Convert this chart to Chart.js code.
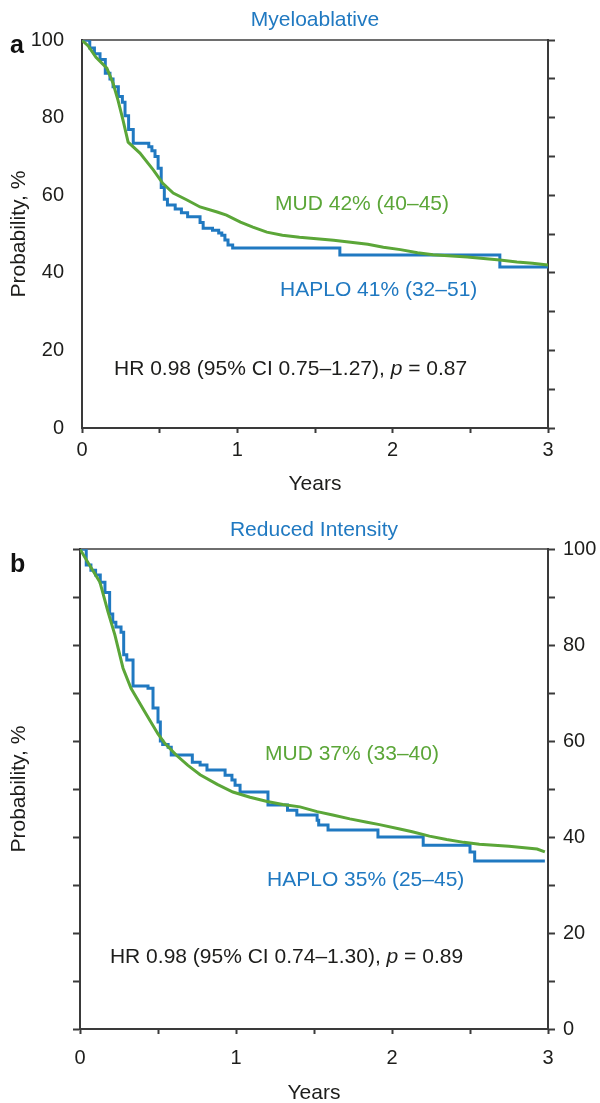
<!DOCTYPE html>
<html>
<head>
<meta charset="utf-8">
<script src="https://cdn.jsdelivr.net/npm/chart.js@4.4.1/dist/chart.umd.min.js"></script>
<style>
  html, body { margin: 0; padding: 0; background: #fff; overflow: hidden; }
  #wrap { position: relative; width: 600px; height: 1103px; overflow: hidden; }
  canvas { position: absolute; left: 0; }
  #panelA { top: 0; }
  #panelB { top: 510px; }
</style>
</head>
<body>
<div id="wrap">
  <canvas id="panelA" width="600" height="510"></canvas>
  <canvas id="panelB" width="600" height="600"></canvas>
</div>
<script>
// Tick labels
const yearLabels = [0, 1, 2, 3];
const probLabels = [0, 20, 40, 60, 80, 100];

// Myeloablative - MUD (smooth KM curve)
const maMudTime = [0, 0.04, 0.09, 0.16, 0.2, 0.232, 0.264, 0.297, 0.373, 0.46, 0.52, 0.587, 0.676, 0.76, 0.87, 0.93,
  1.02, 1.1, 1.19, 1.29, 1.4, 1.62, 1.84, 1.94, 2.05, 2.16, 2.26, 2.48, 2.69, 2.8, 2.9, 3.0];
const maMudProb = [100, 98.5, 95.6, 92.8, 88.9, 84.5, 79.4, 73.7, 70.9, 66.5, 63.1, 60.6, 58.8, 57, 55.7, 54.9,
  53.1, 51.8, 50.5, 49.7, 49.2, 48.4, 47.4, 46.6, 46, 45.2, 44.7, 44.1, 43.3, 42.8, 42.5, 42];

// Myeloablative - HAPLO (steps)
const maHaploTime = [0, 0.05, 0.08, 0.116, 0.15, 0.18, 0.2, 0.234, 0.26, 0.277, 0.3, 0.33, 0.43, 0.45, 0.47, 0.49,
  0.51, 0.53, 0.55, 0.6, 0.64, 0.68, 0.76, 0.78, 0.84, 0.88, 0.9, 0.92, 0.94, 0.97, 1.66, 2.69, 3.0];
const maHaploProb = [100, 98, 96.5, 95, 91.5, 90, 88, 85.5, 84, 80.5, 77, 73.4, 72.5, 71.5, 70, 67,
  62, 59, 57.5, 56.5, 55.5, 54.5, 53, 51.5, 51, 50.3, 49.7, 48.5, 47.2, 46.4, 44.6, 41.5, 41.5];

// Reduced intensity - MUD
const riMudTime = [0, 0.05, 0.128, 0.18, 0.224, 0.276, 0.327, 0.417, 0.5, 0.545, 0.62, 0.69, 0.77, 0.88, 0.98, 1.09,
  1.2, 1.3, 1.41, 1.52, 1.62, 1.73, 1.84, 1.92, 2.05, 2.13, 2.24, 2.35, 2.46, 2.56, 2.75, 2.93, 2.98];
const riMudProb = [100, 97.3, 93.1, 86.9, 82.1, 75.2, 71, 66, 61.5, 59.5, 57, 55, 53, 51, 49.4, 48.3,
  47.4, 46.8, 46.3, 45.3, 44.6, 43.8, 43.1, 42.6, 41.7, 41.1, 40.2, 39.5, 38.9, 38.5, 38.1, 37.5, 36.9];

// Reduced intensity - HAPLO
const riHaploTime = [0, 0.04, 0.07, 0.1, 0.13, 0.16, 0.19, 0.21, 0.23, 0.263, 0.28, 0.3, 0.34, 0.436, 0.468, 0.5,
  0.515, 0.53, 0.565, 0.585, 0.72, 0.77, 0.814, 0.93, 0.974, 0.994, 1.026, 1.205, 1.33, 1.39, 1.52, 1.53, 1.59,
  1.91, 2.2, 2.5, 2.53, 2.98];
const riHaploProb = [100, 96.7, 95.6, 94.6, 93.1, 91, 86.5, 84.8, 83.8, 82.7, 78, 76.9, 71.5, 71, 66.9, 64,
  60, 59.3, 58.7, 57.1, 55.6, 55, 54, 52.9, 51.9, 50.8, 49.4, 46.7, 45.6, 44.6, 43.5, 42.5, 41.5,
  40, 38.3, 36.9, 35, 35];

const BLUE = '#2079c1';
const GREEN = '#5ba638';
const AXIS = '#3a3a3a';
const FRAME = '#6e6e6e';
const TEXT = '#1d1d1b';
const FONT = "'Liberation Sans', Arial, Helvetica, sans-serif";

const toPoints = (t, p) => t.map((x, i) => ({ x: x, y: p[i] }));

// text drawn inside the plot (label positions in axis units)
const panelNotes = {
  panelA: {
    letter: { text: 'a', x: 10, y: 53 },
    items: [
      { x: 1.243, y: 57.7, color: GREEN, parts: [{ text: 'MUD 42% (40–45)' }] },
      { x: 1.275, y: 35.6, color: BLUE, parts: [{ text: 'HAPLO 41% (32–51)' }] },
      { x: 0.206, y: 15.2, color: TEXT, parts: [{ text: 'HR 0.98 (95% CI 0.75–1.27), ' }, { text: 'p', italic: true }, { text: ' = 0.87' }] }
    ]
  },
  panelB: {
    letter: { text: 'b', x: 10, y: 62 },
    items: [
      { x: 1.186, y: 57.3, color: GREEN, parts: [{ text: 'MUD 37% (33–40)' }] },
      { x: 1.199, y: 31, color: BLUE, parts: [{ text: 'HAPLO 35% (25–45)' }] },
      { x: 0.192, y: 14.9, color: TEXT, parts: [{ text: 'HR 0.98 (95% CI 0.74–1.30), ' }, { text: 'p', italic: true }, { text: ' = 0.89' }] }
    ]
  }
};

const notesPlugin = {
  id: 'notes',
  afterDatasetsDraw(chart) {
    const notes = panelNotes[chart.canvas.id];
    if (!notes) return;
    const { ctx, scales } = chart;
    ctx.save();
    ctx.textBaseline = 'middle';
    ctx.textAlign = 'left';
    notes.items.forEach(n => {
      let x = scales.x.getPixelForValue(n.x);
      const y = scales.y.getPixelForValue(n.y);
      n.parts.forEach(part => {
        ctx.font = (part.italic ? 'italic ' : '') + '21px ' + FONT;
        ctx.fillStyle = n.color;
        ctx.fillText(part.text, x, y);
        x += ctx.measureText(part.text).width;
      });
    });
    ctx.font = 'bold 25px ' + FONT;
    ctx.fillStyle = '#111';
    ctx.textBaseline = 'alphabetic';
    ctx.fillText(notes.letter.text, notes.letter.x, notes.letter.y);
    ctx.restore();
  }
};

const tickFont = { family: FONT, size: 20 };
const textFont = { family: FONT, size: 21 };
const yearCb = v => yearLabels.includes(v) ? String(v) : '';
const probCb = v => probLabels.includes(v) ? String(v) : '';

function datasets(mudT, mudP, haploT, haploP) {
  return [
    { label: 'MUD', data: toPoints(mudT, mudP), borderColor: GREEN, borderWidth: 3, pointRadius: 0, tension: 0 },
    { label: 'HAPLO', data: toPoints(haploT, haploP), borderColor: BLUE, borderWidth: 3, pointRadius: 0, stepped: 'before' }
  ];
}

function xScales(height, labelPad, titlePad) {
  return {
    x: {
      type: 'linear', position: 'bottom', min: 0, max: 3,
      ticks: { stepSize: 0.5, padding: labelPad, color: TEXT, font: tickFont, callback: yearCb, maxRotation: 0, autoSkip: false },
      grid: { drawOnChartArea: false, drawTicks: true, tickLength: 5, tickWidth: 2, tickColor: AXIS },
      border: { color: AXIS, width: 2 },
      title: { display: true, text: 'Years', color: TEXT, font: textFont, padding: { top: 0, bottom: titlePad } },
      afterFit: s => { s.height = height; }
    },
    x2: {
      type: 'linear', position: 'top', min: 0, max: 3,
      ticks: { display: false }, grid: { display: false },
      border: { color: FRAME, width: 2 },
      afterFit: s => { s.height = 0; }
    }
  };
}

// a: Myeloablative
new Chart(document.getElementById('panelA'), {
  type: 'line',
  data: { datasets: datasets(maMudTime, maMudProb, maHaploTime, maHaploProb) },
  options: {
    responsive: false,
    animation: false,
    layout: { padding: 0 },
    plugins: {
      legend: { display: false },
      tooltip: { enabled: false },
      title: { display: true, text: 'Myeloablative', color: BLUE, fullSize: false,
        font: { family: FONT, size: 21, weight: 'normal' }, padding: { top: 8, bottom: 7 } }
    },
    scales: Object.assign(xScales(82, 5, 13), {
      y: {
        type: 'linear', position: 'left', min: 0, max: 100,
        ticks: { stepSize: 10, padding: 10, color: TEXT, font: tickFont, callback: probCb },
        grid: { display: false },
        border: { color: AXIS, width: 2 },
        title: { display: true, text: 'Probability, %', color: TEXT, font: textFont, padding: { top: 7, bottom: 0 } },
        afterFit: s => { s.width = 82; }
      },
      y2: {
        type: 'linear', position: 'right', min: 0, max: 100,
        ticks: { display: false, stepSize: 10 },
        grid: { drawOnChartArea: false, tickLength: 7, tickWidth: 2, tickColor: AXIS },
        border: { color: AXIS, width: 2 },
        afterFit: s => { s.width = 52; }
      }
    })
  },
  plugins: [notesPlugin]
});

// b: Reduced Intensity
new Chart(document.getElementById('panelB'), {
  type: 'line',
  data: { datasets: datasets(riMudTime, riMudProb, riHaploTime, riHaploProb) },
  options: {
    responsive: false,
    animation: false,
    layout: { padding: 0 },
    plugins: {
      legend: { display: false },
      tooltip: { enabled: false },
      title: { display: true, text: 'Reduced Intensity', color: BLUE, fullSize: false,
        font: { family: FONT, size: 21, weight: 'normal' }, padding: { top: 8, bottom: 6 } }
    },
    scales: Object.assign(xScales(81, 12, 4), {
      y: {
        type: 'linear', position: 'left', min: 0, max: 100,
        ticks: { display: false, stepSize: 10 },
        grid: { drawOnChartArea: false, tickLength: 7, tickWidth: 2, tickColor: AXIS },
        border: { color: AXIS, width: 2 },
        title: { display: true, text: 'Probability, %', color: TEXT, font: textFont, padding: { top: 7, bottom: 0 } },
        afterFit: s => { s.width = 80; }
      },
      y2: {
        type: 'linear', position: 'right', min: 0, max: 100,
        ticks: { stepSize: 10, padding: 8, color: TEXT, font: tickFont, callback: probCb },
        grid: { drawOnChartArea: false, tickLength: 7, tickWidth: 2, tickColor: AXIS },
        border: { color: AXIS, width: 2 },
        afterFit: s => { s.width = 52; }
      }
    })
  },
  plugins: [notesPlugin]
});
</script>
</body>
</html>
